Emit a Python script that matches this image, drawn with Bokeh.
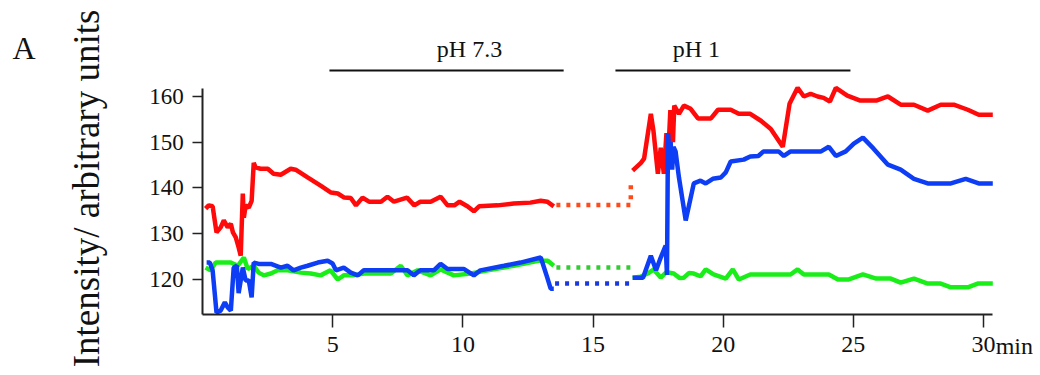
from bokeh.plotting import figure
from bokeh.models import Range1d, FixedTicker, Label
from bokeh.embed import file_html
from bokeh.resources import INLINE

# ---- data (time in min, intensity in arbitrary units) ----
red_t = [0.11, 0.23, 0.38, 0.53, 0.69, 0.81, 0.96, 1.08, 1.16, 1.27, 1.38, 1.46, 1.54, 1.58, 1.65,
         1.77, 1.88, 1.96, 2.03, 2.22, 2.50, 2.72, 3.00, 3.38, 3.57, 4.03, 4.53, 4.93, 5.19, 5.44, 5.69,
         5.89, 6.14, 6.39, 6.85, 7.10, 7.35, 7.85, 8.13, 8.36, 8.76, 9.14, 9.41, 9.67, 9.87, 10.17, 10.42,
         10.62, 11.33, 11.95, 12.59, 12.99, 13.24, 13.49]
red_v = [135.5, 136.2, 136.0, 130.3, 131.4, 132.9, 131.4, 132.2, 130.3, 129.2, 127.0, 125.2, 138.8,
         133.5, 136.2, 135.7, 137.2, 145.5, 144.5, 144.2, 144.2, 143.1, 142.9, 144.2, 144.0, 142.3,
         140.5, 139.0, 138.8, 137.9, 137.8, 136.2, 137.9, 137.0, 137.0, 138.1, 137.0, 137.9, 136.2,
         137.0, 137.0, 138.1, 136.2, 136.2, 137.0, 136.0, 134.9, 136.0, 136.2, 136.6, 136.8, 137.2,
         137.0, 136.0]
red2_t = [16.52, 16.84, 16.96, 17.22, 17.32, 17.49, 17.60, 17.72, 17.82, 17.87, 17.97, 18.07, 18.12,
          18.30, 18.49, 18.75, 19.03, 19.53, 19.80, 20.29, 20.60, 21.04, 21.45, 21.83, 22.29, 22.55,
          22.86, 23.10, 23.36, 23.63, 23.86, 24.10, 24.33, 24.77, 25.27, 25.88, 26.33, 26.82, 27.33,
          27.86, 28.36, 28.86, 29.40, 29.82, 30.36]
red2_v = [143.8, 145.5, 146.4, 156.2, 152.5, 143.1, 148.8, 143.1, 152.0, 145.0, 157.0, 150.0, 158.0,
          156.2, 158.0, 157.3, 155.2, 155.2, 157.1, 157.1, 156.2, 156.2, 154.7, 152.9, 149.0, 158.4,
          161.9, 160.0, 160.6, 160.0, 159.7, 158.9, 161.9, 160.2, 159.1, 159.1, 160.0, 158.2, 158.2,
          156.9, 158.2, 158.2, 157.1, 156.0, 156.0]

blue_t = [0.15, 0.27, 0.38, 0.53, 0.69, 0.85, 0.96, 1.08, 1.19, 1.31, 1.38, 1.54, 1.65, 1.77, 1.88,
          1.96, 2.15, 2.62, 3.00, 3.26, 3.49, 3.77, 4.03, 4.42, 4.80, 4.99, 5.12, 5.42, 5.69, 5.96,
          6.19, 6.73, 7.35, 7.87, 8.11, 8.36, 8.88, 9.14, 9.41, 10.03, 10.42, 10.67, 11.58, 12.21, 12.99,
          13.24, 13.37, 13.49]
blue_v = [123.7, 123.7, 122.0, 112.8, 113.2, 115.0, 113.9, 113.2, 122.6, 123.0, 117.0, 122.6, 119.8,
          119.8, 116.1, 123.7, 123.4, 123.4, 122.6, 123.0, 122.0, 122.6, 123.0, 123.7, 124.1, 123.5,
          122.0, 122.6, 121.5, 120.9, 122.0, 122.0, 122.0, 122.0, 120.9, 122.0, 122.0, 123.4, 122.3,
          122.3, 120.9, 122.0, 123.0, 123.7, 124.8, 120.4, 118.0, 118.0]
blue2_t = [16.52, 16.92, 17.22, 17.42, 17.60, 17.79, 17.84, 17.88, 17.94, 17.98, 18.04, 18.09, 18.17,
           18.30, 18.56, 18.87, 19.13, 19.33, 19.60, 19.91, 20.10, 20.29, 20.79, 21.04, 21.35, 21.55,
           22.13, 22.33, 22.59, 23.76, 24.06, 24.33, 24.71, 25.02, 25.37, 25.78, 26.33, 26.82, 27.33,
           27.86, 28.75, 29.32, 29.82, 30.36]
blue2_v = [120.4, 120.4, 125.2, 122.0, 124.8, 127.4, 121.0, 152.0, 146.0, 150.0, 144.0, 149.0, 148.0,
           142.3, 132.9, 141.0, 141.6, 141.0, 142.0, 142.3, 143.4, 145.8, 146.2, 146.9, 147.0, 148.0,
           148.0, 147.0, 148.0, 148.0, 149.0, 147.0, 148.0, 149.7, 151.0, 148.6, 145.1, 144.0, 142.0,
           141.0, 141.0, 142.0, 141.0, 141.0]

green_t = [0.11, 0.30, 0.50, 1.08, 1.35, 1.58, 1.73, 1.96, 2.15, 2.35, 2.62, 2.88, 3.26, 3.77, 4.15,
           4.53, 4.91, 5.19, 5.42, 5.80, 6.19, 6.73, 7.23, 7.61, 7.87, 8.26, 8.76, 9.14, 9.65, 10.30,
           10.96, 11.95, 12.89, 13.26, 13.49]
green_v = [122.6, 122.0, 123.7, 123.7, 123.0, 124.8, 122.3, 123.0, 121.5, 120.9, 121.3, 122.0, 122.0,
           121.5, 121.3, 120.9, 122.0, 120.0, 120.9, 120.9, 121.3, 121.3, 121.3, 123.0, 120.9, 122.0,
           120.9, 122.2, 120.9, 121.3, 122.0, 123.0, 124.1, 124.1, 123.0]
green2_t = [16.52, 16.82, 17.10, 17.33, 17.60, 17.82, 18.10, 18.33, 18.49, 18.68, 18.87, 19.13, 19.33,
            19.63, 20.10, 20.37, 20.60, 21.04, 22.59, 22.86, 23.10, 24.06, 24.41, 24.83, 25.37, 25.88,
            26.44, 26.82, 27.33, 27.86, 28.36, 28.75, 29.40, 29.78, 30.36]
green2_v = [120.4, 120.6, 121.3, 122.2, 120.4, 121.6, 121.3, 120.3, 120.4, 121.4, 121.3, 120.7, 122.2,
            121.1, 120.2, 122.2, 120.0, 121.1, 121.1, 122.2, 121.1, 121.1, 120.0, 120.0, 121.1, 120.2,
            120.2, 119.3, 120.2, 119.1, 119.1, 118.3, 118.3, 119.1, 119.1]

# interrupted recording (dotted connections)
red_gap_t = [13.59, 16.45, 16.45]
red_gap_v = [136.3, 136.3, 141.6]
green_gap_t = [13.59, 16.45]
green_gap_v = [122.6, 122.6]
blue_gap_t = [13.54, 16.45]
blue_gap_v = [119.1, 119.1]

phase_names = ["pH 7.3", "pH 1"]
phase_start = [4.87, 15.86]
phase_end = [13.87, 24.89]
phase_label_x = [10.25, 18.97]

x_ticks = [5, 10, 15, 20, 25, 30]
y_ticks = [120, 130, 140, 150, 160]
x_axis_span = (0, 30.33)
y_axis_span = (112.35, 161.75)

FONT = "Liberation Serif"
INK = "#111111"

# frame covers the whole canvas; axes are pinned to the data origin
p = figure(width=1036, height=372, output_backend="svg", toolbar_location=None,
           x_range=Range1d(-7.771, 32.04), y_range=Range1d(99.67, 180.98),
           min_border=0, min_border_left=0, min_border_right=0,
           min_border_top=0, min_border_bottom=0)
p.title.visible = False
p.outline_line_color = None
p.xgrid.visible = False
p.ygrid.visible = False
p.background_fill_color = "white"
p.border_fill_color = "white"

RED, GREEN, BLUE = "#ff0a0a", "#19ee19", "#0d3df5"

lw = 4.5
p.line(red_t, red_v, line_color=RED, line_width=lw)
p.line(red2_t, red2_v, line_color=RED, line_width=lw)
p.line(green_t, green_v, line_color=GREEN, line_width=lw)
p.line(green2_t, green2_v, line_color=GREEN, line_width=lw)
p.line(blue_t, blue_v, line_color=BLUE, line_width=lw)
p.line(blue2_t, blue2_v, line_color=BLUE, line_width=lw)

p.line(red_gap_t, red_gap_v, line_color="#ff4a1a", line_width=lw, line_dash="4 6")
p.line(green_gap_t, green_gap_v, line_color="#33cc33", line_width=lw, line_dash="4 6")
p.line(blue_gap_t, blue_gap_v, line_color="#1a3ae0", line_width=lw, line_dash="4 6")

# phase bars above the plot
bar_y = 165.68
p.segment(x0=phase_start, y0=[bar_y] * len(phase_start), x1=phase_end, y1=[bar_y] * len(phase_end),
          line_color=INK, line_width=2)
for name, lx in zip(phase_names, phase_label_x):
    p.add_layout(Label(x=lx, y=170.27, text=name, text_font=FONT, text_font_size="24px",
                       text_align="center", text_baseline="alphabetic", text_color=INK))

# axes
xa = p.xaxis[0]
xa.fixed_location = y_axis_span[0]
xa.bounds = x_axis_span
xa.ticker = FixedTicker(ticks=x_ticks)
xa.minor_tick_line_color = None
xa.major_tick_in = 0
xa.major_tick_out = 13
xa.major_tick_line_width = 1.5
xa.axis_line_width = 2
xa.axis_line_color = "#222222"
xa.major_tick_line_color = "#222222"
xa.major_label_text_font = FONT
xa.major_label_text_font_size = "24px"
xa.major_label_text_color = INK
xa.major_label_standoff = 10

ya = p.yaxis[0]
ya.fixed_location = x_axis_span[0]
ya.bounds = y_axis_span
ya.ticker = FixedTicker(ticks=y_ticks)
ya.minor_tick_line_color = None
ya.major_tick_in = 0
ya.major_tick_out = 10
ya.major_tick_line_width = 1.5
ya.axis_line_width = 2
ya.axis_line_color = "#222222"
ya.major_tick_line_color = "#222222"
ya.major_label_text_font = FONT
ya.major_label_text_font_size = "23px"
ya.major_label_text_color = INK
ya.major_label_standoff = 9

# unit after last tick
p.add_layout(Label(x=30.47, y=105.57, text="min", text_font=FONT, text_font_size="24px",
                   text_align="left", text_baseline="alphabetic", text_color=INK))
# y axis title
p.add_layout(Label(x=-4.46, y=139.9, text="Intensity/ arbitrary units", text_font=FONT,
                   text_font_size="37px", angle=1.5708, text_align="center", text_baseline="middle",
                   text_color=INK))
# panel letter
p.add_layout(Label(x=-7.31, y=170.49, text="A", text_font=FONT, text_font_size="32px",
                   text_align="left", text_baseline="alphabetic", text_color=INK))

open("out.html", "w").write(file_html(p, INLINE))
